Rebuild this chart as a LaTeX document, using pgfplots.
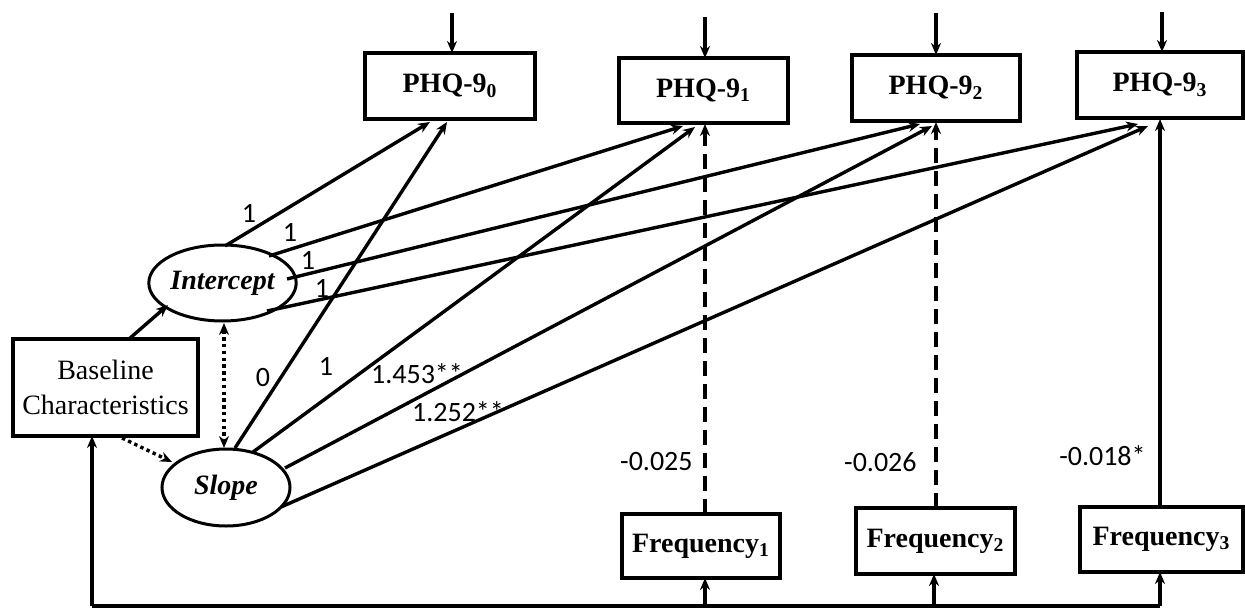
\documentclass[border=0pt]{standalone}
\usepackage{pgfplots}
\pgfplotsset{compat=1.18}
\usepackage{fontspec}
\setmainfont{Liberation Serif}
\newfontfamily\numfont{Carlito}
\usetikzlibrary{arrows.meta,shapes.geometric}

\begin{document}
\begin{tikzpicture}[
    box/.style={draw, line width=1.8pt, inner sep=0pt, align=center,
      font=\fontsize{14}{16}\selectfont\bfseries},
    lat/.style={draw, ellipse, line width=1.5pt, inner sep=0pt,
      font=\fontsize{14}{16}\selectfont\bfseries\itshape},
    lbl/.style={font=\numfont\fontsize{14}{16}\selectfont, inner sep=0pt},
  ]
  \begin{axis}[
      x=0.5pt, y=0.5pt, y dir=reverse,
      xmin=0, xmax=1245, ymin=0, ymax=609,
      hide axis, clip=false,
      cycle list={{black, solid, no markers}},
      pth/.style={black, no markers, line width=1.7pt},
      arr/.style={pth, -{Stealth[length=6pt,width=5pt]}},
    ]
    \addplot[draw=none] coordinates {(0,0) (1245,609)};

    % observed boxes
    \node[box, minimum width=85pt, minimum height=33pt] at (axis cs:450,86) {PHQ-9\textsubscript{0}};
    \node[box, minimum width=84.5pt, minimum height=32.5pt] at (axis cs:703.5,90.5) {PHQ-9\textsubscript{1}};
    \node[box, minimum width=84pt, minimum height=33pt] at (axis cs:936,88) {PHQ-9\textsubscript{2}};
    \node[box, minimum width=83pt, minimum height=33pt] at (axis cs:1160,85) {PHQ-9\textsubscript{3}};
    \node[box, minimum width=79pt, minimum height=32pt] at (axis cs:701,546) {Frequency\textsubscript{1}};
    \node[box, minimum width=79.5pt, minimum height=33pt] at (axis cs:935.5,541) {Frequency\textsubscript{2}};
    \node[box, minimum width=81.5pt, minimum height=32.5pt] at (axis cs:1161.5,539.5) {Frequency\textsubscript{3}};
    \node[box, font=\fontsize{14}{17.5}\selectfont, minimum width=92.5pt, minimum height=48.5pt]
      at (axis cs:105.5,387.5) {Baseline\\Characteristics};

    % latent factors
    \node[lat, minimum width=64.5pt, minimum height=38pt] at (axis cs:222.5,283) {Intercept};
    \node[lat, minimum width=64pt, minimum height=38.5pt] at (axis cs:226,487.5) {Slope};

    % residual arrows
    \addplot[arr] coordinates {(452,13) (452,53)};
    \addplot[arr] coordinates {(705,17) (705,58)};
    \addplot[arr] coordinates {(936,13) (936,55)};
    \addplot[arr] coordinates {(1162,12) (1162,52)};

    % intercept loadings
    \addplot[arr] coordinates {(225,246) (430,122)};
    \addplot[arr] coordinates {(269,256) (683,126)};
    \addplot[arr] coordinates {(287,279) (920,124)};
    \addplot[arr] coordinates {(267,311) (1138,124)};

    % slope loadings
    \addplot[arr] coordinates {(235,448) (447,122)};
    \addplot[arr] coordinates {(253,452) (695,127)};
    \addplot[arr] coordinates {(285,468) (932,126)};
    \addplot[arr] coordinates {(281,507) (1148,126)};

    % baseline paths
    \addplot[arr] coordinates {(129,339) (168,305)};
    \addplot[arr, dash pattern=on 1.7pt off 1.7pt] coordinates {(122,438) (172,462)};
    \addplot[pth, dash pattern=on 1.7pt off 1.7pt,
      {Stealth[length=6pt,width=5pt]}-{Stealth[length=6pt,width=5pt]}]
      coordinates {(224,323) (224,448)};

    % time-varying covariate paths
    \addplot[arr, dash pattern=on 7.5pt off 4pt] coordinates {(705,514) (705,124)};
    \addplot[arr, dash pattern=on 7.5pt off 4pt] coordinates {(936,508) (936,122)};
    \addplot[arr] coordinates {(1160,507) (1160,119)};

    % bottom connector
    \addplot[pth] coordinates {(92,606) (1160,606)};
    \addplot[arr] coordinates {(92,606) (92,436)};
    \addplot[arr] coordinates {(705,606) (705,578)};
    \addplot[arr] coordinates {(934,606) (934,574)};
    \addplot[arr] coordinates {(1160,606) (1160,572)};

    % coefficients
    \node[lbl] at (axis cs:249,213) {1};
    \node[lbl] at (axis cs:290,232) {1};
    \node[lbl] at (axis cs:308,260) {1};
    \node[lbl] at (axis cs:322,288) {1};
    \node[lbl] at (axis cs:263,378) {0};
    \node[lbl] at (axis cs:326,366) {1};
    \node[lbl] at (axis cs:417,374) {1.453**};
    \node[lbl] at (axis cs:458,412) {1.252**};
    \node[lbl, anchor=east] at (axis cs:693,462) {-0.025};
    \node[lbl, anchor=east] at (axis cs:917,462) {-0.026};
    \node[lbl, anchor=east] at (axis cs:1146,456) {-0.018*};
  \end{axis}
\end{tikzpicture}
\end{document}
